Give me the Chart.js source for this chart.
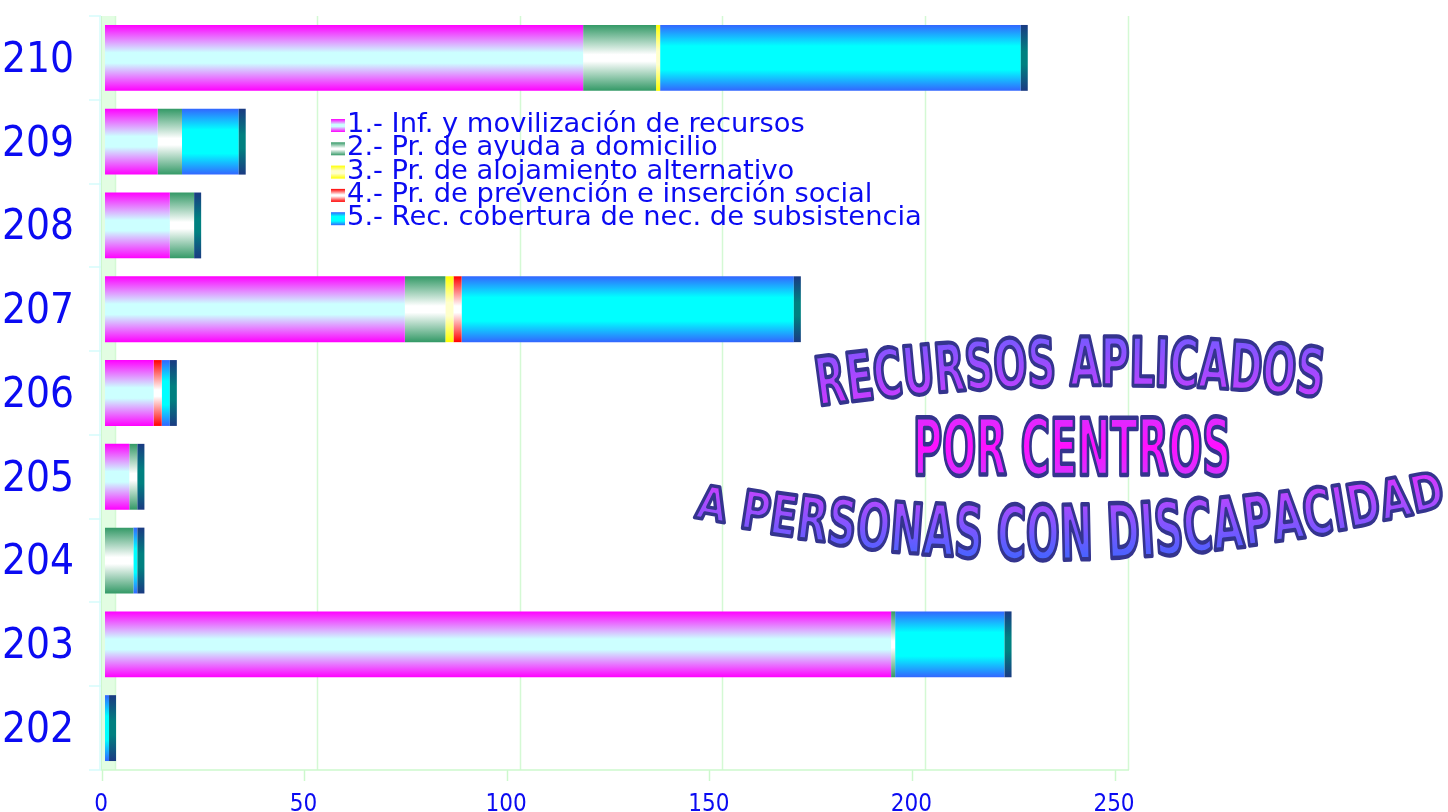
<!DOCTYPE html>
<html><head><meta charset="utf-8">
<script src="https://cdn.jsdelivr.net/npm/chart.js@4.4.1/dist/chart.umd.min.js"></script>
<style>html,body{margin:0;padding:0;background:#fff;}canvas{display:block}</style>
</head><body>
<canvas id="c" width="1448" height="812"></canvas>
<script>
// ---- data ----
const categories = ['210','209','208','207','206','205','204','203','202'];
const seriesNames = [
  '1.- Inf. y movilización de recursos',
  '2.- Pr. de ayuda a domicilio',
  '3.- Pr. de alojamiento alternativo',
  '4.- Pr. de prevención e inserción social',
  '5.- Rec. cobertura de nec. de subsistencia'
];
const infMovilizacion = [118, 13, 16, 74, 12, 6, 0, 194, 0];
const ayudaDomicilio  = [18, 6, 6, 10, 0, 2, 7, 1, 0];
const alojamiento     = [1, 0, 0, 2, 0, 0, 0, 0, 0];
const prevencion      = [0, 0, 0, 2, 2, 0, 0, 0, 0];
const subsistencia    = [89, 14, 0, 82, 2, 0, 1, 27, 1];
const xTicks = [0, 50, 100, 150, 200, 250];
const titleLines = ['RECURSOS APLICADOS', 'POR CENTROS', 'A PERSONAS CON DISCAPACIDAD'];

// ---- styles ----
const BAR_PCT = 0.786;
const seriesStyle = [
  {edge:'#ff00ff', mid:'#ccffff', hold:0.08},
  {edge:'#339966', mid:'#ffffff', hold:0.05},
  {edge:'#ffff00', mid:'#ffffcc', hold:0.1},
  {edge:'#ff0000', mid:'#ffffff', hold:0.05},
  {edge:'#3366ff', mid:'#00ffff', hold:0.18}
];
const capStyle = {edge:'#1a3a82', mid:'#008080', hold:0.1};
const FONT = '"DejaVu Sans Condensed", "DejaVu Sans", sans-serif';
const LFONT = '"DejaVu Sans", sans-serif';
const BLUE = '#0b0bf2';

function vgrad(ctx, st, y0, y1) {
  const g = ctx.createLinearGradient(0, y0, 0, y1);
  g.addColorStop(0, st.edge);
  g.addColorStop(0.5 - st.hold, st.mid);
  g.addColorStop(0.5 + st.hold, st.mid);
  g.addColorStop(1, st.edge);
  return g;
}
function barFill(st) {
  return (c) => {
    const chart = c.chart;
    const ys = chart.scales && chart.scales.y;
    if (!ys || c.dataIndex === undefined) return st.edge;
    const center = ys.getPixelForValue(c.dataIndex);
    const half = ys.height / categories.length * BAR_PCT / 2;
    if (!isFinite(center) || !isFinite(half) || half <= 0) return st.edge;
    return vgrad(chart.ctx, st, center - half, center + half);
  };
}

const dataSeries = [infMovilizacion, ayudaDomicilio, alojamiento, prevencion, subsistencia];
const datasets = dataSeries.map((d, i) => ({
  label: seriesNames[i],
  data: d,
  backgroundColor: barFill(seriesStyle[i]),
  borderWidth: 0,
  barPercentage: BAR_PCT,
  categoryPercentage: 1
}));

function line(ctx, x0, y0, x1, y1) { ctx.beginPath(); ctx.moveTo(x0, y0); ctx.lineTo(x1, y1); ctx.stroke(); }

const backdrop = {
  id: 'backdrop',
  beforeDatasetsDraw(chart) {
    const {ctx, chartArea: a, scales: {x: xs, y: ys}} = chart;
    ctx.save();
    ctx.fillStyle = '#e2fde2';
    ctx.fillRect(a.left - 4, a.top, 15, a.bottom - a.top);
    ctx.strokeStyle = '#cdf7cd'; ctx.lineWidth = 1;
    line(ctx, a.left - 3.5, a.top, a.left - 3.5, a.bottom);
    ctx.strokeStyle = '#d4f9d4'; ctx.lineWidth = 1.5;
    xTicks.forEach(v => { const x = Math.round(xs.getPixelForValue(v) + 9.5) + 0.5; line(ctx, x, a.top, x, a.bottom); });
    ctx.strokeStyle = '#cdf8cd'; ctx.lineWidth = 1.5;
    line(ctx, a.left - 4, a.bottom, xs.getPixelForValue(250) + 11, a.bottom);
    xTicks.forEach(v => { const x = Math.round(xs.getPixelForValue(v) - 3.5) + 0.5; line(ctx, x, a.bottom, x, a.bottom + 11); });
    ctx.strokeStyle = '#d6fbfb'; ctx.lineWidth = 1.5;
    for (let i = 0; i <= categories.length; i++) {
      const y = Math.round(ys.getPixelForValue(i - 0.5));
      line(ctx, a.left - 16, y, a.left - 4, y);
    }
    line(ctx, a.left - 5, a.top, a.left - 5, a.bottom);
    ctx.restore();
  },
  afterDatasetsDraw(chart) {
    const ctx = chart.ctx;
    ctx.save();
    categories.forEach((c, i) => {
      let best = null;
      chart.data.datasets.forEach((ds, k) => {
        const el = chart.getDatasetMeta(k).data[i];
        if (ds.data[i] > 0 && (!best || el.x > best.x)) best = el;
      });
      if (!best) return;
      const top = best.y - best.height / 2, bot = best.y + best.height / 2;
      ctx.fillStyle = vgrad(ctx, capStyle, top, bot);
      ctx.fillRect(best.x, top, 7, bot - top);
    });
    ctx.restore();
  }
};

const legendPlugin = {
  id: 'innerLegend',
  afterDraw(chart) {
    const ctx = chart.ctx;
    ctx.save();
    ctx.font = `24px ${LFONT}`;
    const w = ctx.measureText(seriesNames[4]).width;
    const size = 24 * 575 / w;
    ctx.font = `${size.toFixed(2)}px ${LFONT}`;
    ctx.textBaseline = 'middle';
    seriesNames.forEach((n, i) => {
      const y = 125 + i * 23.3;
      const my = y - 6;
      ctx.fillStyle = vgrad(ctx, seriesStyle[i], my, my + 13);
      ctx.fillRect(331, my, 14, 13);
      ctx.fillStyle = BLUE;
      ctx.fillText(n, 347, y);
    });
    ctx.restore();
  }
};

// ---- WordArt title ----
const artStops = [[330,[111,92,255]],[400,[200,60,255]],[446,[255,16,255]],[492,[190,70,255]],[565,[58,102,255]]];
function colorAt(y) {
  if (y <= artStops[0][0]) return `rgb(${artStops[0][1]})`;
  for (let i = 1; i < artStops.length; i++) {
    if (y <= artStops[i][0]) {
      const [y0, c0] = artStops[i-1], [y1, c1] = artStops[i];
      const t = (y - y0) / (y1 - y0);
      return `rgb(${c0.map((v, k) => Math.round(v + (c1[k] - v) * t)).join(',')})`;
    }
  }
  return `rgb(${artStops[artStops.length-1][1]})`;
}
function quad3(p) {
  return x => {
    let s = 0;
    for (let i = 0; i < 3; i++) {
      let t = p[i][1];
      for (let j = 0; j < 3; j++) if (j !== i) t *= (x - p[j][0]) / (p[i][0] - p[j][0]);
      s += t;
    }
    return s;
  };
}
function drawArt(ctx, text, x0, x1, midF, hF) {
  const F = 100;
  ctx.font = `bold ${F}px ${FONT}`;
  const capH = 0.729 * F;
  const chars = [...text];
  const advs = chars.map(ch => ctx.measureText(ch).width);
  const W = advs.reduce((a, b) => a + b, 0);
  const sx = (x1 - x0) / W;
  let acc = 0;
  chars.forEach((ch, i) => {
    const cx = x0 + (acc + advs[i] / 2) * sx;
    acc += advs[i];
    if (ch === ' ') return;
    const m = midF(cx), h = hF(cx);
    const slope = (midF(cx + 1) - midF(cx - 1)) / 2;
    const sy = h / capH;
    ctx.save();
    ctx.translate(cx, m);
    ctx.rotate(Math.atan(slope));
    ctx.scale(sx, sy);
    const g = ctx.createLinearGradient(0, -capH / 2, 0, capH / 2);
    g.addColorStop(0, colorAt(m - h / 2));
    g.addColorStop(0.5, colorAt(m));
    g.addColorStop(1, colorAt(m + h / 2));
    ctx.fillStyle = g;
    ctx.textAlign = 'center';
    ctx.textBaseline = 'alphabetic';
    ctx.lineJoin = 'round';
    ctx.strokeStyle = '#34348e';
    ctx.lineWidth = 3.4 / Math.sqrt(sx * sy);
    ctx.fillText(ch, 0, capH / 2);
    ctx.strokeText(ch, 0, capH / 2);
    ctx.restore();
  });
}
const titlePlugin = {
  id: 'wordArt',
  afterDraw(chart) {
    const ctx = chart.ctx;
    ctx.save();
    drawArt(ctx, titleLines[0], 815, 1325, quad3([[833,379],[1080,361],[1310,371]]), x => 49);
    drawArt(ctx, titleLines[1], 913, 1231, x => 446, x => 57);
    drawArt(ctx, titleLines[2], 697, 1443, quad3([[717,504],[1065,532],[1428,491]]), quad3([[717,35],[1065,55],[1428,37]]));
    ctx.restore();
  }
};

new Chart(document.getElementById('c'), {
  type: 'bar',
  data: { labels: categories, datasets },
  options: {
    indexAxis: 'y',
    responsive: false,
    animation: false,
    devicePixelRatio: 1,
    layout: { padding: { left: 0, right: 330, top: 16, bottom: 0 } },
    plugins: { legend: { display: false }, tooltip: { enabled: false }, title: { display: false } },
    scales: {
      x: {
        type: 'linear', stacked: true, min: 0, max: 250, position: 'bottom',
        afterBuildTicks: s => { s.ticks = xTicks.map(v => ({ value: v })); },
        grid: { display: false }, border: { display: false },
        ticks: { color: BLUE, font: { family: FONT, size: 24 }, padding: 12, labelOffset: -4, maxRotation: 0, autoSkip: false },
        afterFit: s => { s.height = 42; s.paddingLeft = 0; s.paddingRight = 0; }
      },
      y: {
        stacked: true,
        grid: { display: false }, border: { display: false },
        ticks: { color: BLUE, font: { family: FONT, size: 42 }, padding: 23, labelOffset: 3, autoSkip: false },
        afterFit: s => { s.width = 105; s.paddingTop = 0; s.paddingBottom = 0; }
      }
    }
  },
  plugins: [backdrop, legendPlugin, titlePlugin]
});
</script>
</body></html>
